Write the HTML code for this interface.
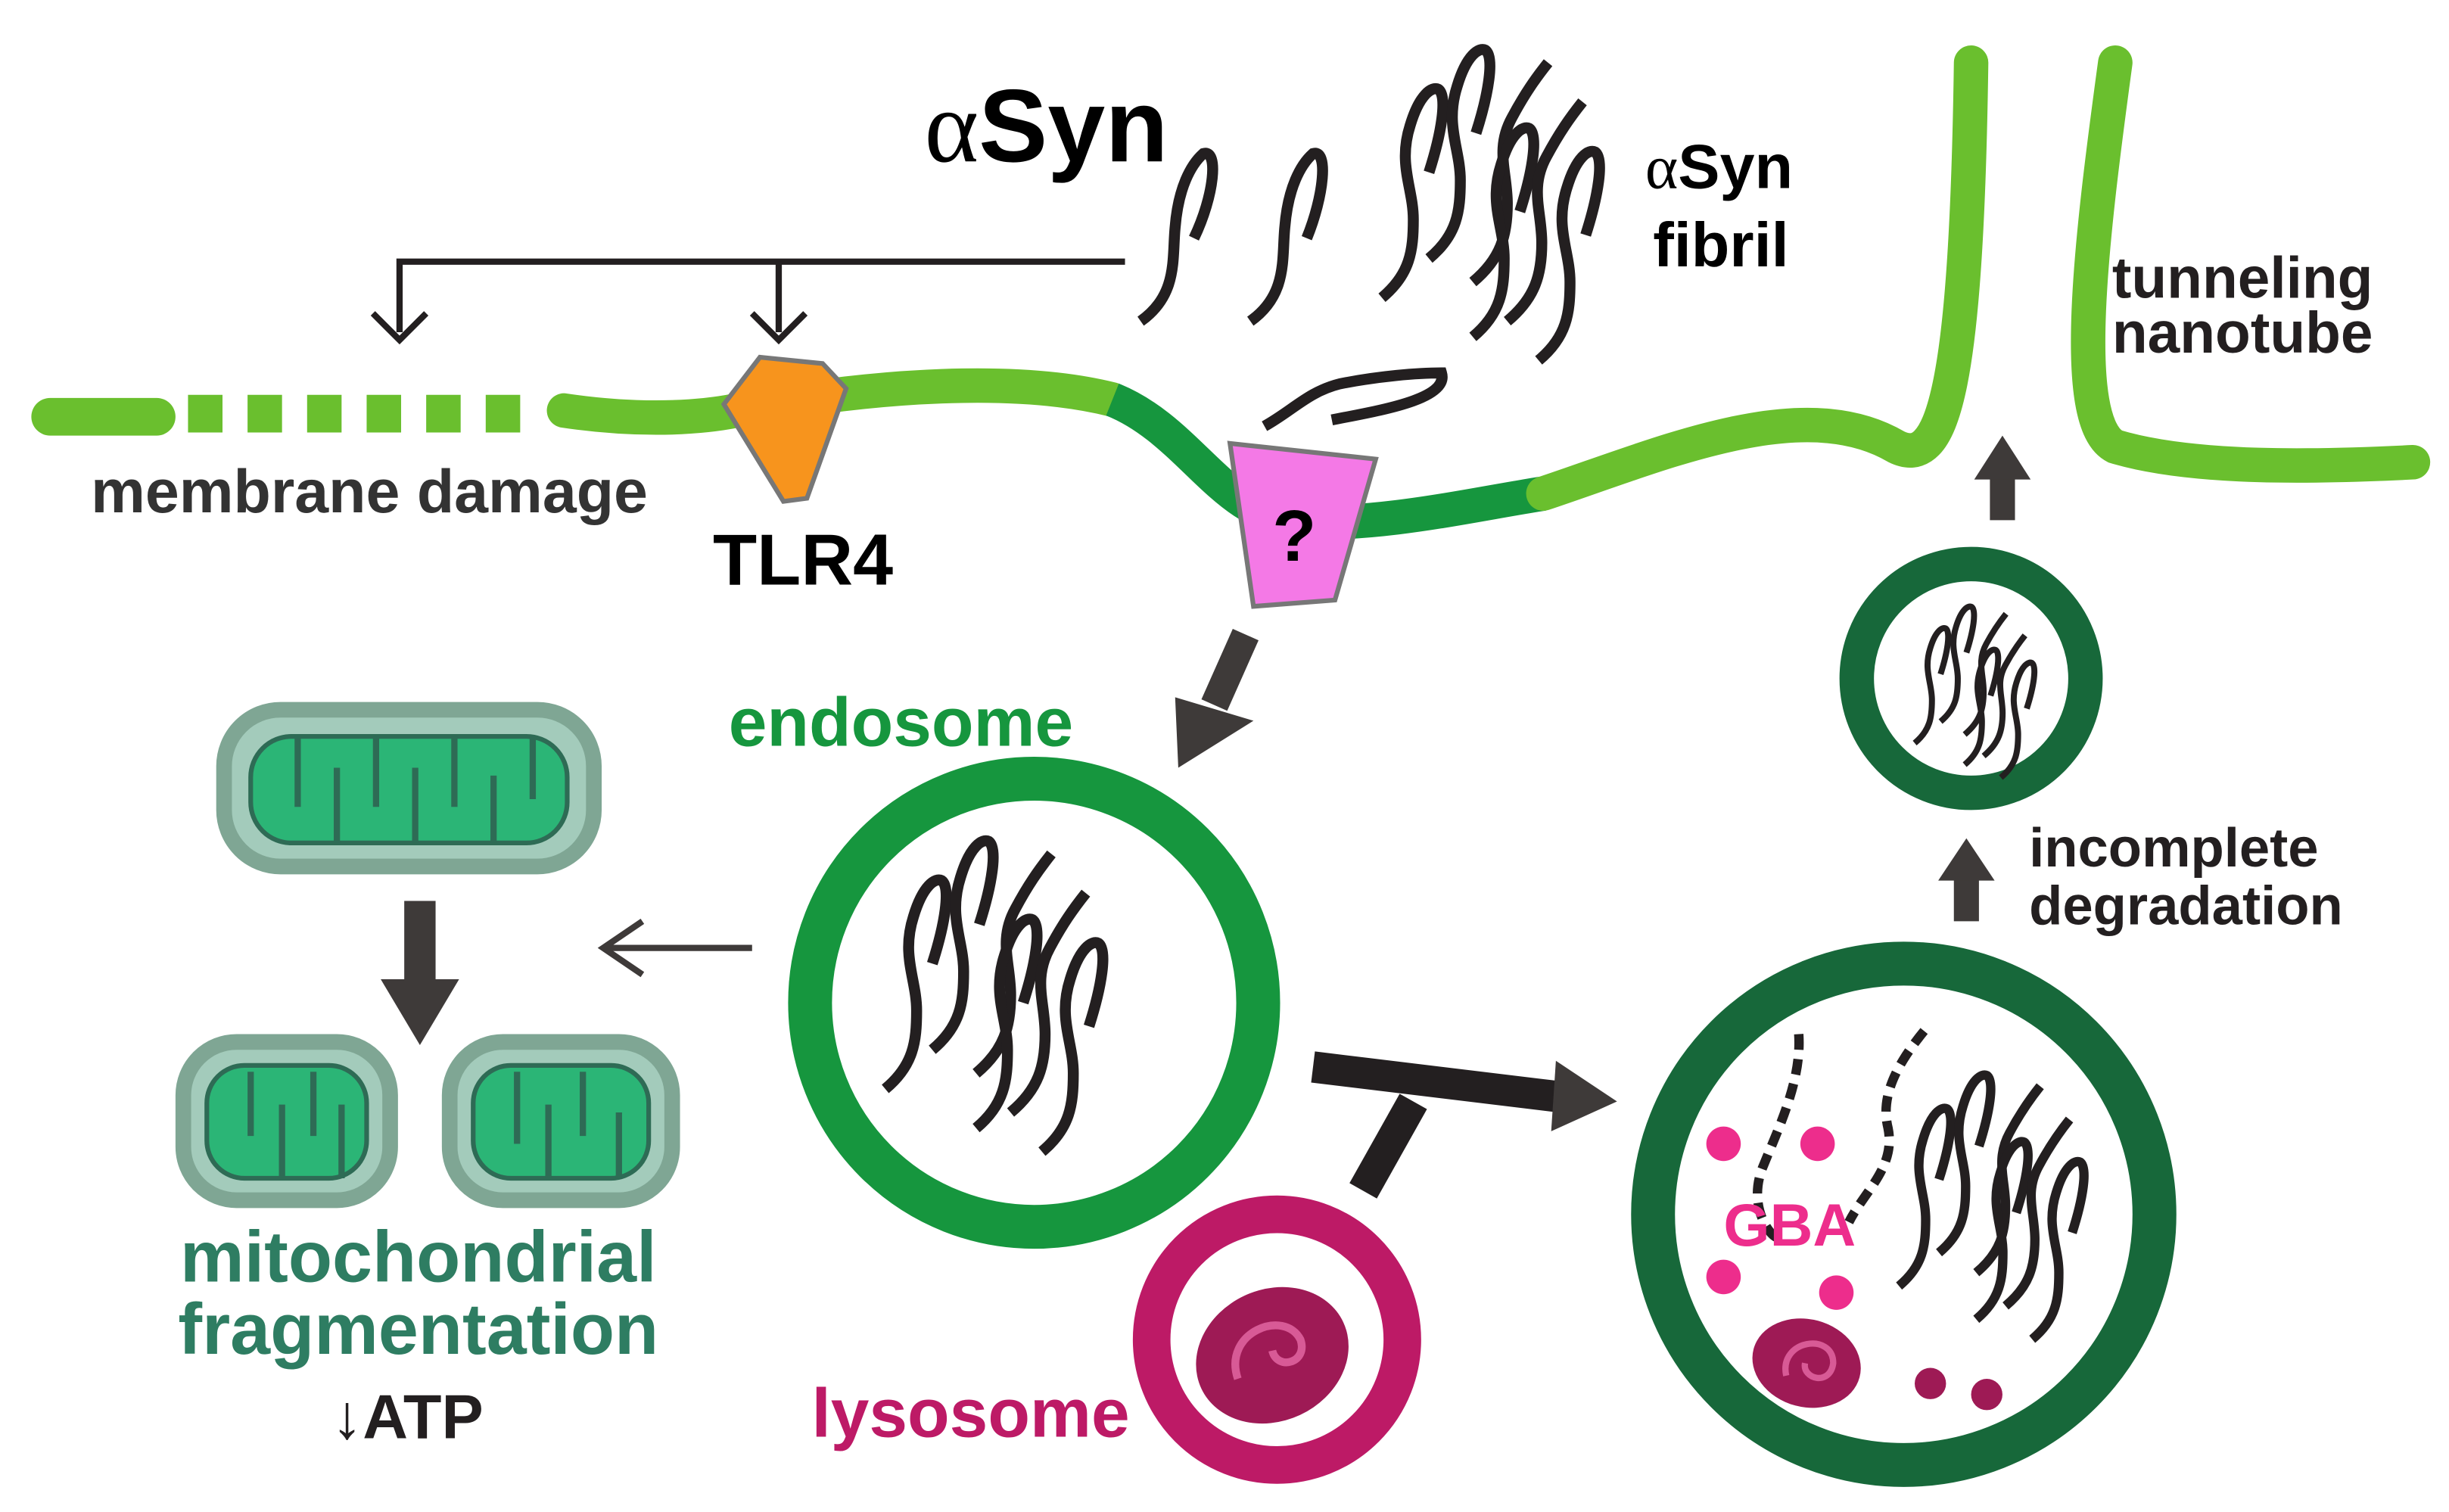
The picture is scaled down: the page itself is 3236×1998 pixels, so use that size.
<!DOCTYPE html>
<html><head><meta charset="utf-8"><style>
html,body{margin:0;padding:0;background:#fff}
svg{display:block}
text{font-family:"Liberation Sans",sans-serif;font-weight:bold}
</style></head><body>
<svg width="3236" height="1998" viewBox="0 0 1563 965" preserveAspectRatio="none" xmlns="http://www.w3.org/2000/svg">
<defs>
<g id="strand" fill="none" stroke="#231f20" stroke-width="7" stroke-linecap="butt">
<path d="M0,95 C18,80 22,65 22,45 C22,25 14,10 25,-10 C33,-25 40,-35 48,-45"/>
</g>
<g id="hair" fill="none" stroke="#231f20" stroke-width="7">
<path d="M0,95 C18,80 20,65 20,45 C20,25 10,10 18,-15 C24,-35 32,-40 36,-38 C42,-34 38,-10 30,15"/>
</g>
<g id="fibril">
<use href="#hair" x="0" y="0"/>
<use href="#hair" x="30" y="-25"/>
<use href="#strand" x="58" y="-10"/>
<use href="#hair" x="58" y="25"/>
<use href="#strand" x="80" y="15"/>
<use href="#hair" x="100" y="40"/>
</g>
</defs>

<text x="590" y="103" font-size="66" fill="#000"><tspan font-family="Liberation Serif" font-weight="normal">α</tspan>Syn</text>
<text x="1050" y="120" font-size="40" fill="#000"><tspan font-family="Liberation Serif" font-weight="normal">α</tspan>Syn</text>
<text x="1055" y="170" font-size="40" fill="#000">fibril</text>
<text x="1348" y="190" font-size="37" fill="#231f20">tunneling</text>
<text x="1348" y="225" font-size="37" fill="#231f20">nanotube</text>

<g fill="none" stroke="#231f20" stroke-width="7">
<path d="M728,205 C752,188 748,165 750,145 C752,120 760,105 768,98 C778,95 775,125 762,152"/>
<path d="M798,205 C822,188 818,165 820,145 C822,120 830,105 838,98 C848,95 845,125 834,152"/>
<path d="M807,272 C825,262 835,250 855,245 C880,240 905,238 920,238 C925,255 880,262 850,268"/>
</g>
<use href="#fibril" x="882" y="95"/>

<g stroke="#231f20" stroke-width="4" fill="none">
<path d="M718,167 H255 V212"/>
<path d="M497,167 V212"/>
<path d="M238,200 L255,217 L272,200"/>
<path d="M480,200 L497,217 L514,200"/>
</g>

<g fill="none" stroke-linecap="round">
<path d="M32,266 H100" stroke="#6abf2e" stroke-width="24"/>
<path d="M120,264 H342" stroke="#6abf2e" stroke-width="24" stroke-dasharray="22,16" stroke-linecap="butt"/>
<path d="M360,262 C400,268 440,268 470,262 C560,245 650,240 710,255" stroke="#6abf2e" stroke-width="22"/>
<path d="M710,255 C760,275 780,330 830,333 C880,336 940,322 985,315" stroke="#16963e" stroke-width="22" stroke-linecap="butt"/>
<path d="M985,315 C1060,290 1150,250 1210,285 C1240,300 1255,250 1258,40" stroke="#6abf2e" stroke-width="22"/>
<path d="M1350,40 C1335,150 1320,270 1350,285 C1400,300 1480,298 1540,295" stroke="#6abf2e" stroke-width="22"/>
</g>

<polygon points="462,258 485,228 525,232 540,248 515,318 500,320" fill="#f7941d" stroke="#777" stroke-width="3"/>
<text x="455" y="373" font-size="46" fill="#000">TLR4</text>
<text x="58" y="327" font-size="39" fill="#333">membrane damage</text>

<polygon points="785,283 878,293 852,383 800,387" fill="#f479e6" stroke="#777" stroke-width="3"/>
<text x="812" y="358" font-size="46" fill="#000">?</text>

<path d="M795,405 L775,450" stroke="#3e3a39" stroke-width="18"/>
<polygon points="750,445 800,460 752,490" fill="#3e3a39"/>
<text x="465" y="476" font-size="44" fill="#16963e">endosome</text>

<circle cx="660" cy="640" r="143" fill="none" stroke="#16963e" stroke-width="28"/>
<use href="#fibril" x="565" y="600"/>

<path d="M480,605 H385" stroke="#3e3a39" stroke-width="4"/>
<path d="M410,588 L385,605 L410,622" stroke="#3e3a39" stroke-width="4" fill="none"/>

<g stroke="#7fa694" stroke-width="10">
<rect x="143" y="453" width="236" height="100" rx="36" fill="#a3cbbb"/>
<rect x="117" y="665" width="132" height="101" rx="34" fill="#a3cbbb"/>
<rect x="287" y="665" width="142" height="101" rx="34" fill="#a3cbbb"/>
</g>
<g fill="#2bb576" stroke="#2e6b55" stroke-width="3">
<rect x="160" y="470" width="202" height="68" rx="26"/>
<rect x="132" y="680" width="102" height="72" rx="24"/>
<rect x="302" y="680" width="112" height="72" rx="24"/>
</g>
<g stroke="#2e6b55" stroke-width="4" fill="none">
<path d="M190,470 V515 M215,538 V490 M240,470 V515 M265,538 V490 M290,470 V515 M315,538 V495 M340,470 V510"/>
<path d="M160,684 V725 M180,752 V705 M200,684 V725 M218,752 V705"/>
<path d="M330,684 V730 M350,752 V705 M372,684 V725 M395,752 V710"/>
</g>
<path d="M268,575 V630" stroke="#3e3a39" stroke-width="20"/>
<polygon points="243,625 293,625 268,667" fill="#3e3a39"/>
<text x="267" y="818" font-size="46" fill="#2e7d62" text-anchor="middle">mitochondrial</text>
<text x="267" y="864" font-size="46" fill="#2e7d62" text-anchor="middle">fragmentation</text>
<text x="260" y="918" font-size="40" fill="#231f20" text-anchor="middle"><tspan font-weight="normal">↓</tspan>ATP</text>

<path d="M838,681 L995,700" stroke="#231f20" stroke-width="20"/>
<path d="M870,760 L902,703" stroke="#231f20" stroke-width="20"/>
<polygon points="993,677 1032,703 990,722" fill="#3e3a39"/>

<circle cx="815" cy="855" r="80" fill="none" stroke="#bd1a66" stroke-width="24"/>
<ellipse cx="812" cy="865" rx="50" ry="42" fill="#9e1a55" transform="rotate(-25 812 865)"/>
<path d="M790,880 C780,850 820,835 830,855 C835,870 815,875 812,862" fill="none" stroke="#d85a96" stroke-width="5"/>
<text x="518" y="917" font-size="44" fill="#bd1a66">lysosome</text>

<circle cx="1215" cy="775" r="160" fill="none" stroke="#17683a" stroke-width="28"/>
<g fill="none" stroke="#231f20" stroke-width="6" stroke-dasharray="10,6">
<path d="M1148,660 C1150,690 1135,720 1125,745 C1115,770 1130,790 1135,790"/>
<path d="M1228,658 C1210,680 1200,700 1205,720 C1210,745 1190,760 1180,780"/>
</g>
<g fill="#ed2d8c">
<circle cx="1100" cy="730" r="11"/><circle cx="1160" cy="730" r="11"/>
<circle cx="1100" cy="815" r="11"/><circle cx="1172" cy="825" r="11"/>
</g>
<g fill="#9e1a55"><circle cx="1232" cy="883" r="10"/><circle cx="1268" cy="890" r="10"/></g>
<text x="1100" y="795" font-size="38" fill="#ed2d8c" font-weight="normal">GBA</text>
<ellipse cx="1153" cy="870" rx="35" ry="28" fill="#9e1a55" transform="rotate(15 1153 870)"/>
<path d="M1140,878 C1135,855 1170,850 1170,870 C1168,885 1150,880 1152,870" fill="none" stroke="#d85a96" stroke-width="4"/>
<g transform="translate(1212,740) scale(0.85)"><use href="#fibril" x="0" y="0"/></g>

<circle cx="1258" cy="433" r="73" fill="none" stroke="#17683a" stroke-width="22"/>
<g transform="translate(1222,400) scale(0.55)"><use href="#fibril" x="0" y="40"/></g>

<path d="M1255,588 V560" stroke="#3e3a39" stroke-width="16"/>
<polygon points="1237,562 1273,562 1255,535" fill="#3e3a39"/>
<path d="M1278,332 V303" stroke="#3e3a39" stroke-width="16"/>
<polygon points="1260,306 1296,306 1278,278" fill="#3e3a39"/>
<text x="1295" y="553" font-size="35" fill="#231f20">incomplete</text>
<text x="1295" y="590" font-size="35" fill="#231f20">degradation</text>
</svg>
</body></html>
